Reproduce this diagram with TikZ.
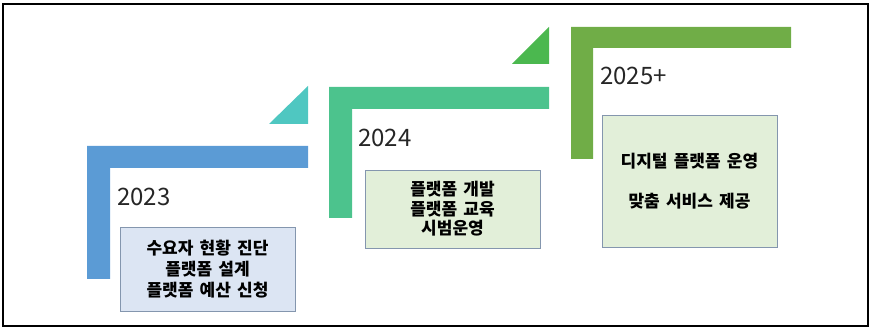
\documentclass[tikz,border=0pt]{standalone}
\usepackage{fontspec}
\newfontfamily\kr{Noto Sans CJK KR}
\newfontfamily\krw[WordSpace=1.6]{Noto Sans CJK KR}
\definecolor{cblue}{HTML}{5B9BD5}
\definecolor{cteal}{HTML}{4FC7C1}
\definecolor{cmint}{HTML}{4CC38D}
\definecolor{cgreen}{HTML}{4BB84F}
\definecolor{colive}{HTML}{70AD47}
\definecolor{fblue}{HTML}{DCE5F3}
\definecolor{fgreen}{HTML}{E2EFD9}
\definecolor{bgrey}{HTML}{8496AE}
\tikzset{
  infobox/.style={draw=bgrey, line width=0.9pt, minimum width=175pt, align=center,
    font=\krw\bfseries\fontsize{17}{21}\selectfont, inner sep=0pt},
  yearlbl/.style={anchor=west, inner sep=0pt, font=\kr\fontsize{24}{28}\selectfont, text=black!85},
}
\begin{document}
\begin{tikzpicture}[x=1pt,y=-1pt]
\useasboundingbox (0,0) rectangle (871,328);
\draw[line width=1.4pt] (3,4) rectangle (868,326);
% stage 1
\fill[cblue] (87,146) -- (308,146) -- (308,168) -- (110,168) -- (110,279) -- (87,279) -- cycle;
\fill[cteal] (269,124) -- (308,124) -- (308,86) -- cycle;
% stage 2
\fill[cmint] (329,87) -- (549,87) -- (549,109) -- (352,109) -- (352,218) -- (329,218) -- cycle;
\fill[cgreen] (512,64) -- (549,64) -- (549,27) -- cycle;
% stage 3
\fill[colive] (571,27) -- (791,27) -- (791,48) -- (593,48) -- (593,159) -- (571,159) -- cycle;
% years
\node[yearlbl] (y1) at (117,197) {2023};
\node[yearlbl] (y2) at (358,138) {2024};
\node[yearlbl] (y3) at (600,76) {2025+};
% boxes
\node[infobox, fill=fblue, minimum height=84pt] (b1) at (207.5,269) {수요자 현황 진단\\플랫폼 설계\\플랫폼 예산 신청};
\node[infobox, fill=fgreen, minimum height=78pt, font=\krw\bfseries\fontsize{17}{19.5}\selectfont] (b2) at (452.5,209) {플랫폼 개발\\플랫폼 교육\\시범운영};
\node[infobox, fill=fgreen, minimum height=132pt] (b3) at (689.5,181) {디지털 플랫폼 운영\\[19pt]맞춤 서비스 제공};
\end{tikzpicture}
\end{document}
